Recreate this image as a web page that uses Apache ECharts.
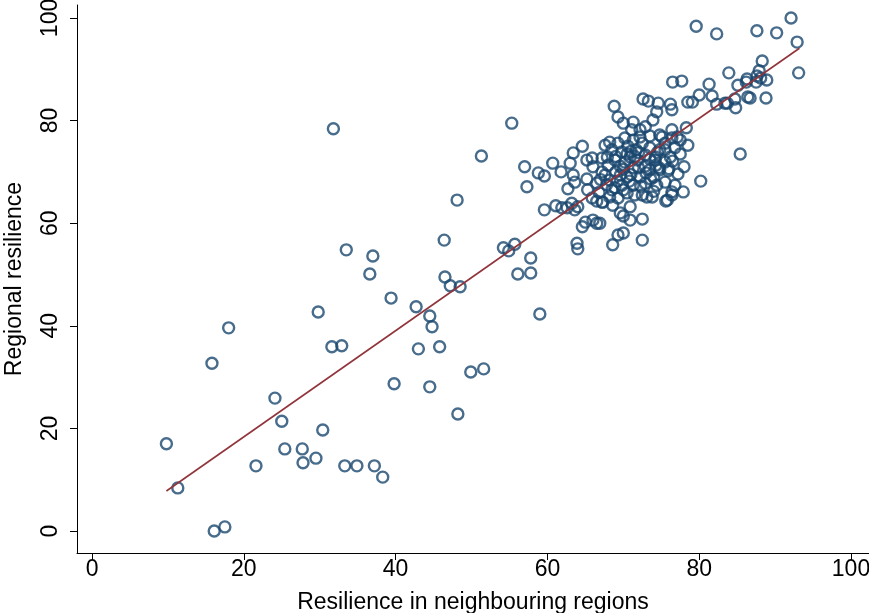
<!DOCTYPE html>
<html>
<head>
<meta charset="utf-8">
<script src="https://cdn.jsdelivr.net/npm/echarts@6/dist/echarts.min.js"></script>
<style>
html,body{margin:0;padding:0;background:#fff;}
#chart{width:869px;height:613px;}
</style>
</head>
<body>
<div id="chart"></div>
<script>
// Tick labels
const xTicks = [0, 20, 40, 60, 80, 100];
const yTicks = [0, 20, 40, 60, 80, 100];

// Scatter points [neighbour resilience, regional resilience]
const lowPoints = [
  [9.8,17.0],[11.3,8.4],[16.1,0.0],[17.5,0.8],[15.8,32.7],[18.0,39.6],[21.6,12.7],[24.1,25.9],
  [25.0,21.4],[25.4,16.0],[27.7,16.0],[27.8,13.3],[29.5,14.2],[29.8,42.7],[30.4,19.7],[31.6,35.9],
  [31.8,78.4],[32.9,36.1],[33.3,12.7],[33.5,54.8],[34.9,12.7],[36.6,50.1],[37.0,53.6],[37.2,12.7],
  [38.3,10.5],[39.4,45.4],[39.8,28.7],[42.7,43.7],[43.0,35.5],[44.5,28.1],[44.5,41.9],[44.8,39.8],
  [45.8,35.9],[46.4,56.7],[46.5,49.5],[47.2,47.8],[48.1,64.5],[48.2,22.8],[48.5,47.6],[49.9,31.0],
  [51.6,31.6],[51.3,73.1],[54.2,55.2],[54.9,54.6],[55.7,55.9],[55.3,79.5],[56.1,50.1],[57.0,71.0],
  [57.3,67.1],[57.8,50.3],[57.8,53.2],[59.0,42.3],[58.8,69.8],[59.6,69.2],[59.6,62.6]
];
const leftCluster = [
  [60.7,71.7],[61.8,70.0],[61.1,63.4],[61.9,63.0],[62.6,63.0],[63.2,63.9],[63.6,62.6],[64.0,63.2],
  [62.7,66.7],[63.6,68.0],[63.4,69.4],[63.0,71.7],[63.4,73.7],[64.6,75.0],[65.2,72.3],[65.9,72.7],
  [65.2,68.6],[65.3,66.5],[66.0,71.0],[67.2,72.7],[67.2,70.0],[67.9,72.9],[66.5,67.8],[65.9,64.9],
  [66.5,64.3],[67.2,64.1],[66.0,60.6],[65.0,60.2],[64.6,59.3],[66.5,60.0],[63.9,56.1],[64.0,55.0]
];
const upperCluster = [
  [68.8,82.8],[69.3,80.7],[70.0,79.5],[71.3,79.7],[72.6,84.2],[73.3,83.8],[74.6,83.4],[74.4,81.7],
  [76.2,83.2],[76.4,82.1],[73.9,80.1],[72.2,78.2],[72.9,78.8],[71.1,78.2],[76.4,78.2],[77.1,76.8],
  [78.3,78.6],[76.5,87.5],[77.7,87.7],[78.5,83.6]
];
const coreCluster = [
  [67.6,69.4],[72.2,69.0],[72.9,67.8],[74.4,67.4],[75.5,68.0],[76.8,67.4],[77.9,66.1],[76.4,66.1],
  [75.8,64.5],[72.5,65.5],[73.1,65.1],[73.8,65.1],[67.3,64.1],[68.2,65.1],[69.3,64.9],[68.6,63.5],
  [70.9,63.2],[69.6,62.0],[70.0,61.4],[70.9,60.6],[72.5,60.8],[66.9,60.0],[69.3,57.7],[70.0,58.1],
  [68.6,55.8],[72.5,56.7],[74.8,70.4],[75.9,70.2],
  [68.2,68.4],[68.9,66.9],[69.8,67.4],[70.5,69.0],[71.3,67.4],[70.5,65.9],[71.5,65.5],[69.6,69.4],
  [68.5,66.5],
  [67.6,75.2],[68.5,74.3],[69.3,75.6],[69.8,73.9],[70.6,75.0],[70.9,72.9],[71.7,74.3],[72.5,75.6],
  [72.9,73.3],[73.5,74.7],[74.2,72.3],[74.8,74.3],[75.5,75.6],[76.2,72.9],[76.8,74.7],[77.5,76.2],
  [78.5,75.2],[68.9,72.3],[69.6,71.1],[70.2,71.9],[71.3,70.8],[71.9,72.3],[72.9,71.1],[73.5,70.4],
  [74.3,71.3],[75.5,71.9],[76.5,72.1],[68.0,71.3],[72.2,76.8],[73.5,77.0],[74.8,77.2],[70.2,76.6],
  [71.3,76.2],[68.2,75.8],
  [75.1,76.8],[76.4,76.6],[75.5,74.3],[74.2,72.9],[74.7,70.8],[76.0,70.6],[75.6,64.3],[76.4,65.5],
  [69.0,70.0],[70.0,70.5],[71.0,69.5],[72.0,70.8],[73.0,69.8],[74.0,69.0],[70.5,73.5],[71.5,73.0],
  [73.5,72.5],[74.5,73.8],[71.0,74.0],[72.0,73.8],[69.2,68.2],[70.8,68.2],[73.6,68.6],[72.3,67.2],
  [70.0,66.5],[74.0,66.2],[69.0,73.0],[67.8,67.5],[77.2,69.6],[77.5,73.5],[78.0,71.0],[66.8,66.0],
  [67.0,68.5]
];
const upperRight = [
  [79.6,98.4],[82.3,96.9],[87.6,97.5],[90.2,97.1],[92.1,100.0],[92.9,95.3],[93.1,89.3],[88.3,91.6],
  [87.9,89.7],[87.6,88.7],[88.1,88.3],[88.9,87.9],[87.5,87.5],[86.3,88.1],[86.2,87.5],[83.9,89.3],
  [85.1,86.9],[81.3,87.1],[80.0,85.0],[81.7,84.8],[79.1,83.6],[82.3,83.2],[83.4,83.4],[84.7,84.2],
  [84.8,82.5],[86.4,84.6],[86.7,84.4],[88.8,84.4],[85.4,73.5],[80.2,68.2],[83.7,83.4]
];

// Fitted line end points
const fitLine = [[9.8,7.8],[93.2,94.1]];

const points = [].concat(lowPoints, leftCluster, upperCluster, coreCluster, upperRight);

const chart = echarts.init(document.getElementById('chart'), null, {renderer: 'canvas'});
const font = '"Liberation Sans", Arial, Helvetica, sans-serif';
chart.setOption({
  backgroundColor: '#ffffff',
  animation: false,
  grid: {left: 77, right: 0, top: 5, bottom: 60, containLabel: false, outerBoundsMode: 'none'},
  xAxis: {
    type: 'value',
    min: -1.98, max: 102.37,
    name: 'Resilience in neighbouring regions',
    nameLocation: 'middle',
    nameGap: 38,
    nameTextStyle: {fontFamily: font, fontSize: 23, color: '#000'},
    axisLine: {show: true, onZero: false, lineStyle: {color: '#000', width: 1}},
    axisTick: {show: true, length: 7, customValues: xTicks, lineStyle: {color: '#000'}},
    axisLabel: {customValues: xTicks, fontFamily: font, fontSize: 23, color: '#000', margin: 5},
    splitLine: {show: false}
  },
  yAxis: {
    type: 'value',
    min: -4.29, max: 102.53,
    name: 'Regional resilience',
    nameLocation: 'middle',
    nameGap: 51,
    nameTextStyle: {fontFamily: font, fontSize: 23, color: '#000'},
    axisLine: {show: true, onZero: false, lineStyle: {color: '#000', width: 1}},
    axisTick: {show: true, length: 7, customValues: yTicks, lineStyle: {color: '#000'}},
    axisLabel: {customValues: yTicks, rotate: 90, fontFamily: font, fontSize: 23, color: '#000', margin: 15},
    splitLine: {show: false}
  },
  series: [
    {
      type: 'scatter',
      data: points,
      symbol: 'circle',
      symbolSize: 11,
      itemStyle: {color: 'rgba(0,0,0,0)', borderColor: '#1a476f', borderWidth: 2.4},
      z: 2
    },
    {
      type: 'line',
      data: fitLine,
      symbol: 'none',
      lineStyle: {color: '#90353b', width: 1.6},
      z: 3
    }
  ]
});
</script>
</body>
</html>
